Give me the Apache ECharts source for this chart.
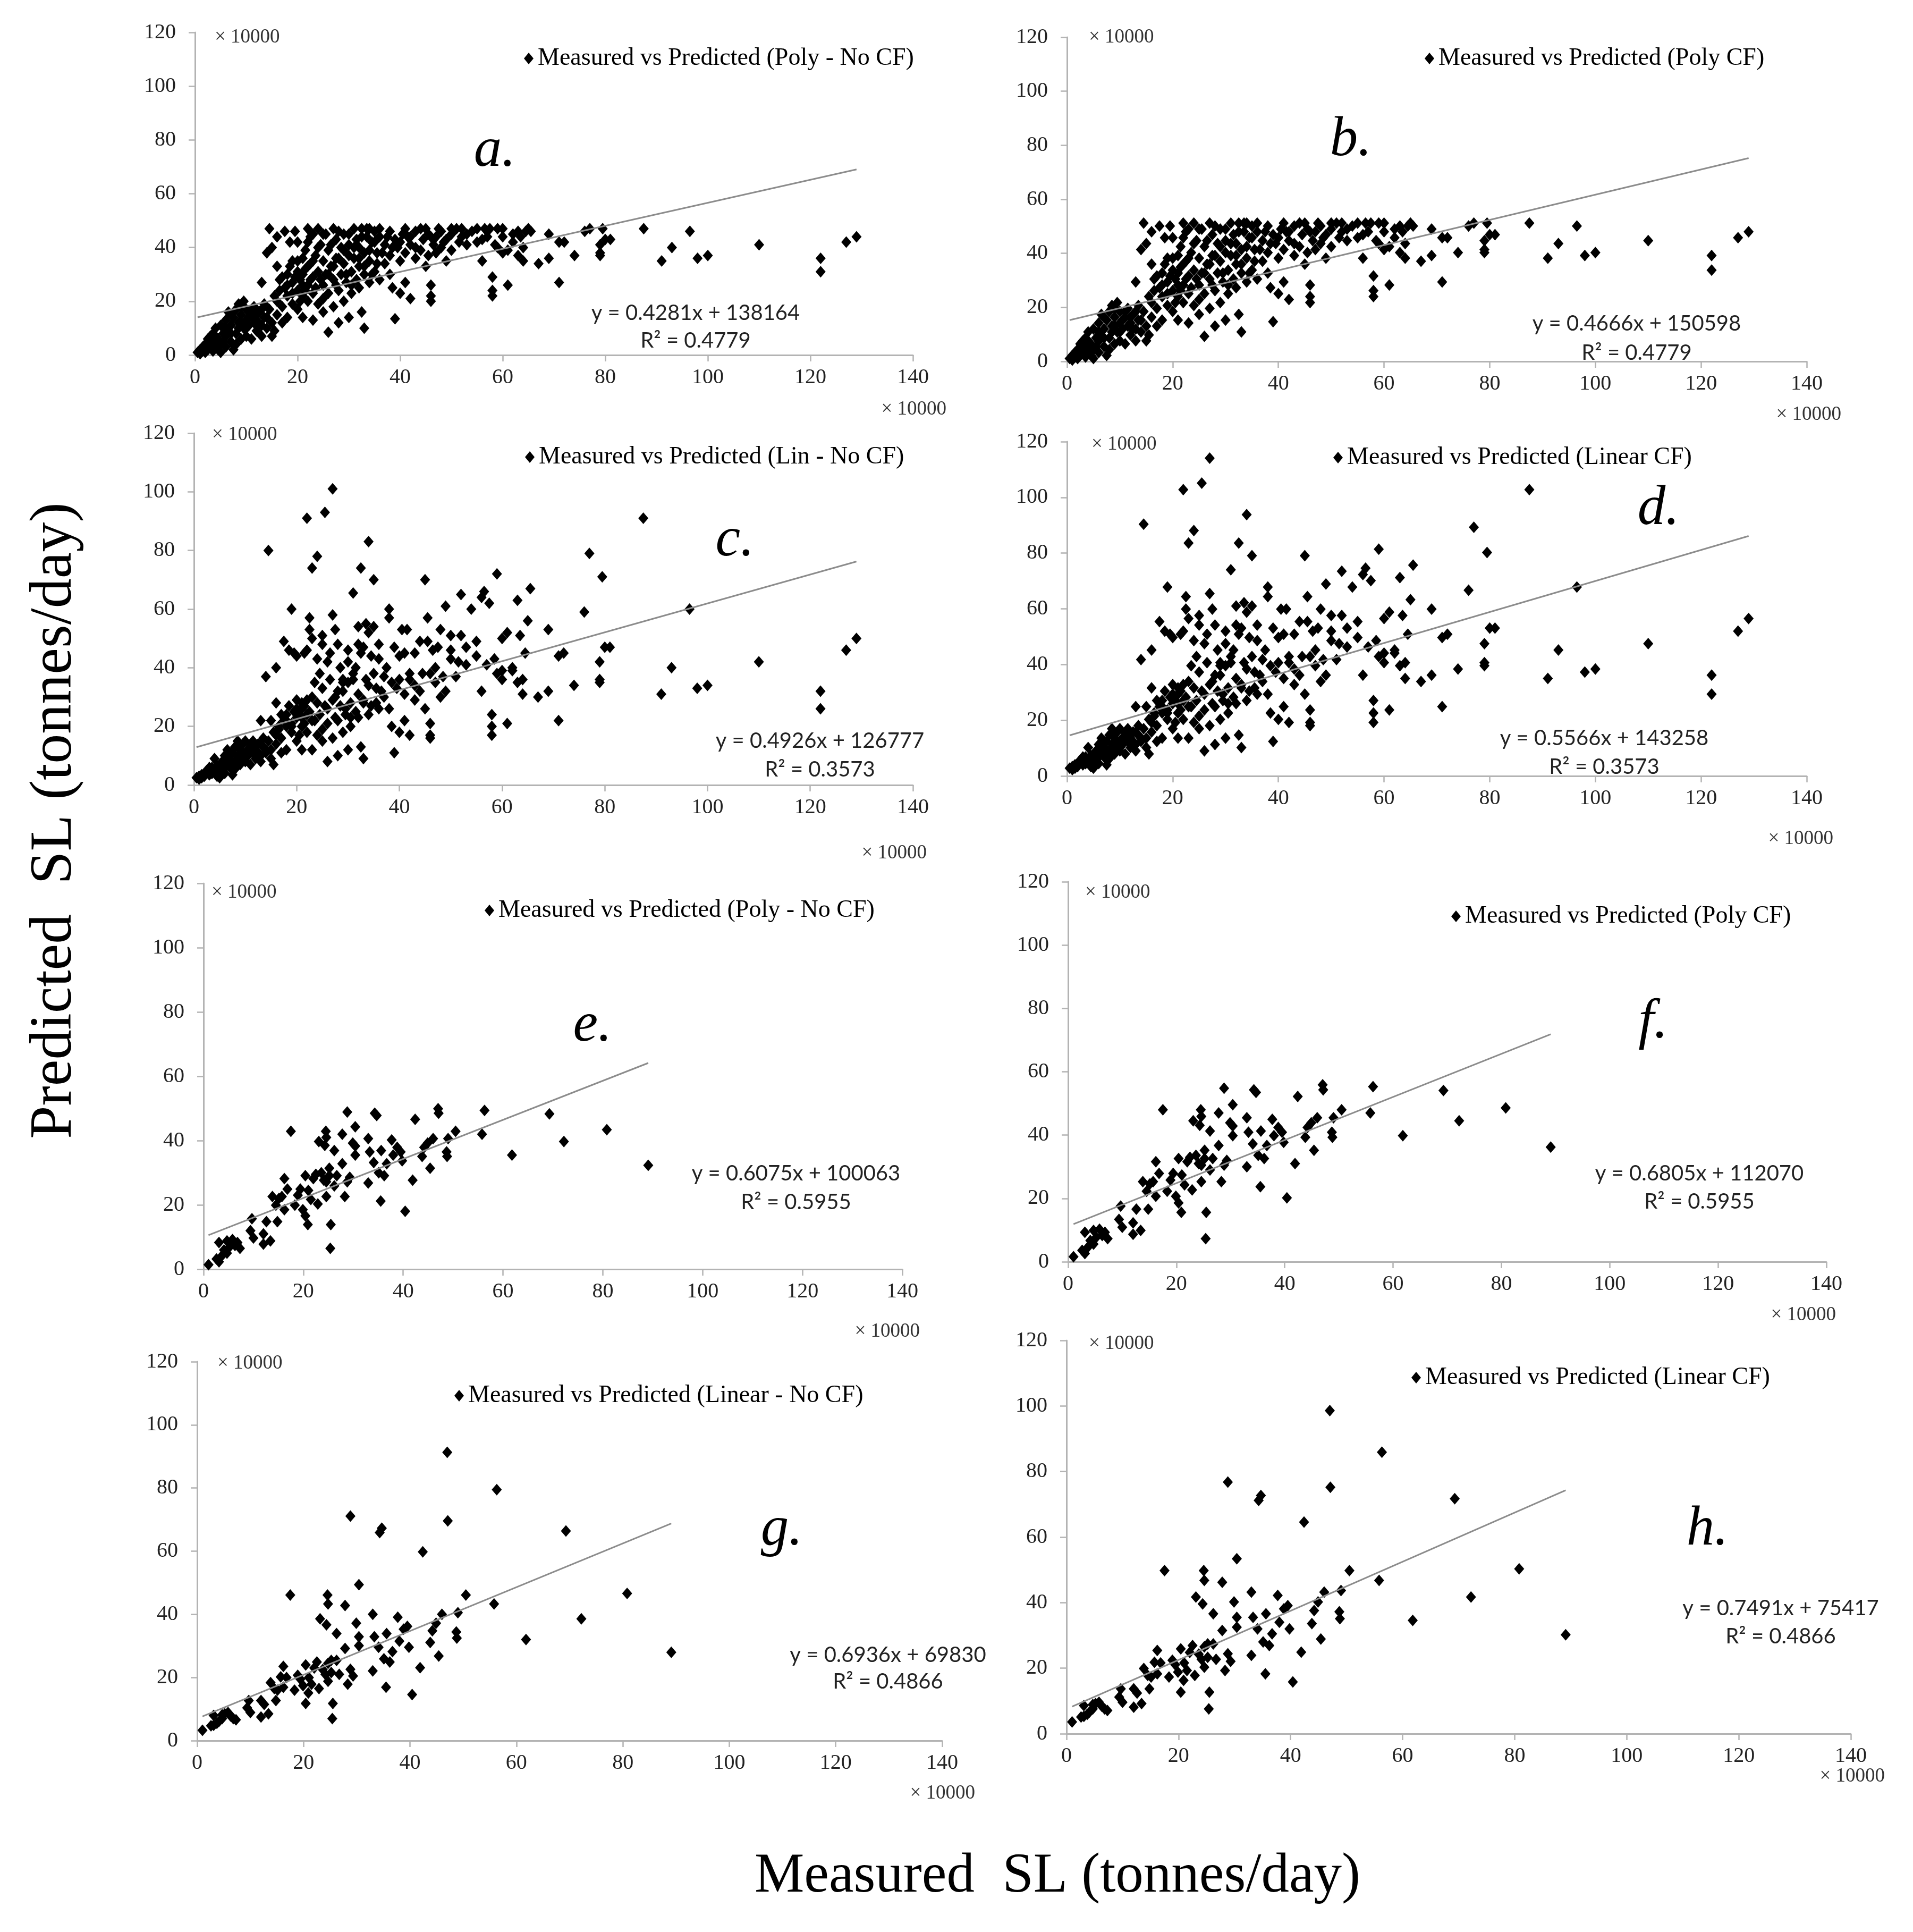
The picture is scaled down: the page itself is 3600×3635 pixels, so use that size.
<!DOCTYPE html>
<html><head><meta charset="utf-8">
<script src="https://cdn.jsdelivr.net/npm/echarts@6/dist/echarts.min.js"></script>
<style>html,body{margin:0;padding:0;background:#fff}#c{width:3600px;height:3635px}</style>
</head><body><div id="c"></div>
<script>
// ---------- DATA (values in units of 10000 tonnes/day) ----------
const panelLetters = ['a.','b.','c.','d.','e.','f.','g.','h.'];
const legendNames = [
  'Measured vs Predicted (Poly - No CF)',
  'Measured vs Predicted (Poly CF)',
  'Measured vs Predicted (Lin - No CF)',
  'Measured vs Predicted (Linear CF)',
  'Measured vs Predicted (Poly - No CF)',
  'Measured vs Predicted (Poly CF)',
  'Measured vs Predicted (Linear - No CF)',
  'Measured vs Predicted (Linear CF)'
];
const xTickValues = [0,20,40,60,80,100,120,140];
const yTickValues = [0,20,40,60,80,100,120];
const axisUnitLabel = '× 10000';

// panels a-d: measured SL
const measuredCal = [
0.5,1,1,1.5,2,2,2.5,2.5,3,3,
3.5,3.5,4,4,4.5,4.5,5,5,5,5.5,
6,6,6,6.5,6.5,7,7,7.5,7.5,8,
8,8,8.5,8.5,9,9,9.5,9.5,10,10,
10,10.5,11,11,11.5,12,12,12.5,12.5,13,
13,13.5,13.5,14,14,14.5,14.5,15,15,15,
15.5,15.5,16,16,16,16.5,17,17,17.5,17.5,
18,18,18,18.5,19,19,19,19.5,20,20,
20,20,20.5,21,21,21,21.5,21.5,22,22,
22,22.5,22.5,23,23,23,23.5,24,24,24,
24.5,25,25,25,25.5,25.5,26,26,26,26.5,
27,27,27,27.5,27.5,28,28,28.5,28.5,29,
29,29,29.5,30,30,30,30.5,30.5,31,31,
31.5,31.5,32,32,32,32.5,32.5,33,33,33,
33.5,34,34,34,34.5,35,35,35.5,36,36,
37,37,38,38,38,38.5,39,39,39.5,40,
40,40.5,41,41,41.5,42,42,43,43,44,
44.5,45,45,45.5,45.5,46,46,46,46.5,47,
47,48,48,49,49,50,50,51,52,52,
53,54,55,56,56,56.5,57,57.5,58,58,
58,58.5,59,59,60,60,61,61,62,63,
63,63.5,64,64,65,65.5,67,69,69,71,
71,72,74,76,77,79,79,79,79.5,80,
81,87.5,91,93,96.5,98,100,110,122,122,
127,129,
1.5,2,3,3.5,4,5.5,6,7,7,8.5,
9,9,10,10.5,11,11.5,12,13,13,14,
16,16.5,17,18,18.5,19,19.5,20,20.5,21,
21,21.5,22,22,22.5,23,23,23.5,24,24.5,
25,25,26,26.5,27,27.5,28,28,29,29.5,
30,30.5,31,32,32.5,33,33.5,34,34.5,35,
35.5,36,36.5,37.5,38.5,40,41,42,43,44,
46,47.5,48.5,50,51.5,53,55,60,62,64.5];
const predPolyNoCF = [
1,0.5,2,3,1,4,2,6,3,5,
1.5,8,4,10,2,6,1,11,4,8,
3,7,13,9,16,5,11,2,14,8,
17,4,12,19,6,15,10,20,13,7,
17,11,15,6,18,9,13,16,11,27,
7,14,19,10,38,47,17,7,12,40,
9,22,33,44,15,28,18,12,46,25,
22,30,14,42,27,35,19,46,24,31,
17,42,28,36,22,14,32,39,47,26,
20,34,44,29,13,23,37,47,31,19,
41,26,35,16,45,30,8.5,39,23,33,
47,28,18,43,36,24,12,40,30,45,
20,34,27,14,41,37,31,23,47,36,
28,43,33,25,40,47,16,30,38,10,
44,47,27,35,42,31,46,38,28,44,
41,34,46,37,30,25,43,13.5,40,23,
35,45,27,38,44,21,41,36,46,39,
43,47,33,37,45,26,20,22,41,44,
38,46,40,43,35,45,39,47,44,47,
41,46,47,43,35,47,44,47,29,24,
22,41,47,40,38,44,26,39,45,46,
37,44,35,40,47,46,34,45,36,27,
42,42,37,46,47,38,37,41,47,43,
43,47,35,40,46,36,37,41,36,31,
42,44,
1.5,2.5,7,4.5,7,5,10,8,15,10,
12,18,10,14,17,12,15,11,17,14,
20,24,29,26,33,23,29,35,20,26,
30,24,33,42,28,35,45,25,40,28,
45,21,30,41,33,26,46,36,39,30,
45,26,40,36,44,33,47,39,30,42,
34,47,38,44,40,42,47,44,40,47,
44,47,42,47,42,45,42,47,42,46];
const predPolyCF = [
1.1,0.5,2.2,3.3,1.1,4.4,2.2,6.5,3.3,5.5,
1.6,8.7,4.4,10.9,2.2,6.5,1.1,12,4.4,8.7,
3.3,7.6,14.2,9.8,17.4,5.5,12,2.2,15.3,8.7,
18.5,4.4,13.1,20.7,6.5,16.4,10.9,21.8,14.2,7.6,
18.5,12,16.4,6.5,19.6,9.8,14.2,17.4,12,29.4,
7.6,15.3,20.7,10.9,41.4,51.2,18.5,7.6,13.1,43.6,
9.8,24,36,48,16.4,30.5,19.6,13.1,50.1,27.3,
24,32.7,15.3,45.8,29.4,38.2,20.7,50.1,26.2,33.8,
18.5,45.8,30.5,39.2,24,15.3,34.9,42.5,51.2,28.3,
21.8,37.1,48,31.6,14.2,25.1,40.3,51.2,33.8,20.7,
44.7,28.3,38.2,17.4,49,32.7,9.3,42.5,25.1,36,
51.2,30.5,19.6,46.9,39.2,26.2,13.1,43.6,32.7,49,
21.8,37.1,29.4,15.3,44.7,40.3,33.8,25.1,51.2,39.2,
30.5,46.9,36,27.3,43.6,51.2,17.4,32.7,41.4,10.9,
48,51.2,29.4,38.2,45.8,33.8,50.1,41.4,30.5,48,
44.7,37.1,50.1,40.3,32.7,27.3,46.9,14.7,43.6,25.1,
38.2,49,29.4,41.4,48,22.9,44.7,39.2,50.1,42.5,
46.9,51.2,36,40.3,49,28.3,21.8,24,44.7,48,
41.4,50.1,43.6,46.9,38.2,49,42.5,51.2,48,51.2,
44.7,50.1,51.2,46.9,38.2,51.2,48,51.2,31.6,26.2,
24,44.7,51.2,43.6,41.4,48,28.3,42.5,49,50.1,
40.3,48,38.2,43.6,51.2,50.1,37.1,49,39.2,29.4,
45.8,45.8,40.3,50.1,51.2,41.4,40.3,44.7,51.2,46.9,
46.9,51.2,38.2,43.6,50.1,39.2,40.3,44.7,39.2,33.8,
45.8,48,
1.6,2.7,7.6,4.9,7.6,5.5,10.9,8.7,16.4,10.9,
13.1,19.6,10.9,15.3,18.5,13.1,16.4,12,18.5,15.3,
21.8,26.2,31.6,28.3,36,25.1,31.6,38.2,21.8,28.3,
32.7,26.2,36,45.8,30.5,38.2,49,27.3,43.6,30.5,
49,22.9,32.7,44.7,36,28.3,50.1,39.2,42.5,32.7,
49,28.3,43.6,39.2,48,36,51.2,42.5,32.7,45.8,
37.1,51.2,41.4,48,43.6,45.8,51.2,48,43.6,51.2,
48,51.2,45.8,51.2,45.8,49,45.8,51.2,45.8,50.1];
const predLinNoCF = [
2.5,2,3,3.5,3,4,4.5,5,3.5,5.5,
4,6,5,9,3,6.5,2.5,7,4.5,8,
4,6,10,7,12,6,9,3.5,11,8,
13,5.5,10,15,7,12,9,14,11,8,
15,10,13,7,15,9,12,14,11,22,
8,13,16,11,37,80,15,9,12,22,
7,18,28,40,14,20,16,11,49,22,
20,24,12,46,21,60,18,45,23,26,
15,44,25,28,20,12,27,45,91,24,
18,57,53,74,12,22,35,78,28,17,
38,51,33,15,93,27,8,42,21,45,
101,58,16,53,30,22,10,40,27,36,
18,32,24,12,46,35,28,20,65.5,38,
25,40,54,23,48,74,13,47,28,9,
36,83,24,52,44,70,54,33,26,43,
37,30,60,57,26,20,47,11,33,18,
44,53,22,31,53,17,36,29,45,32,
38,70,26,57,49,21,16,17,46,40,
35,53,30,61,32,51,43,37,65,51,
41,60,49,64,32,66,41,62,24,20,
17,43,72,38,36,39,21,52,39,63,
35,51,31,36,56,67,30,53,32,22,
44,45,34,59,79,36,35,42,71,47,
47,91,31,40,60,33,34,42,32,26,
46,50,
2.5,3.5,6,4,5.5,5,8,7,11,9,
10,13,9,12,14,11,13,10,14,12,
17,19,24,22,27,20,25,29,17,23,
26,21,29,46,25,30,50,22,43,24,
48,19,26,36,29,23,48,32,35,26,
42,23,36,31,45,29,55,34,27,38,
28,48,32,40,35,36,45,38,34,49,
38,47,37,46,42,47,44,50,40,45];
const predLinCF = [
2.8,2.3,3.4,4,3.4,4.5,5.1,5.7,4,6.2,
4.5,6.8,5.7,10.2,3.4,7.3,2.8,7.9,5.1,9,
4.5,6.8,11.3,7.9,13.6,6.8,10.2,4,12.4,9,
14.7,6.2,11.3,17,7.9,13.6,10.2,15.8,12.4,9,
17,11.3,14.7,7.9,17,10.2,13.6,15.8,12.4,24.9,
9,14.7,18.1,12.4,41.8,90.4,17,10.2,13.6,24.9,
7.9,20.3,31.6,45.2,15.8,22.6,18.1,12.4,55.4,24.9,
22.6,27.1,13.6,52,23.7,67.8,20.3,50.9,26,29.4,
17,49.7,28.3,31.6,22.6,13.6,30.5,50.9,102.8,27.1,
20.3,64.4,59.9,83.6,13.6,24.9,39.6,88.1,31.6,19.2,
42.9,57.6,37.3,17,105.1,30.5,9,47.5,23.7,50.9,
114.1,65.5,18.1,59.9,33.9,24.9,11.3,45.2,30.5,40.7,
20.3,36.2,27.1,13.6,52,39.6,31.6,22.6,74,42.9,
28.3,45.2,61,26,54.2,83.6,14.7,53.1,31.6,10.2,
40.7,93.8,27.1,58.8,49.7,79.1,61,37.3,29.4,48.6,
41.8,33.9,67.8,64.4,29.4,22.6,53.1,12.4,37.3,20.3,
49.7,59.9,24.9,35,59.9,19.2,40.7,32.8,50.9,36.2,
42.9,79.1,29.4,64.4,55.4,23.7,18.1,19.2,52,45.2,
39.6,59.9,33.9,68.9,36.2,57.6,48.6,41.8,73.5,57.6,
46.3,67.8,55.4,72.3,36.2,74.6,46.3,70.1,27.1,22.6,
19.2,48.6,81.4,42.9,40.7,44.1,23.7,58.8,44.1,71.2,
39.6,57.6,35,40.7,63.3,75.7,33.9,59.9,36.2,24.9,
49.7,50.9,38.4,66.7,89.3,40.7,39.6,47.5,80.2,53.1,
53.1,102.8,35,45.2,67.8,37.3,38.4,47.5,36.2,29.4,
52,56.5,
2.8,4,6.8,4.5,6.2,5.7,9,7.9,12.4,10.2,
11.3,14.7,10.2,13.6,15.8,12.4,14.7,11.3,15.8,13.6,
19.2,21.5,27.1,24.9,30.5,22.6,28.3,32.8,19.2,26,
29.4,23.7,32.8,52,28.3,33.9,56.5,24.9,48.6,27.1,
54.2,21.5,29.4,40.7,32.8,26,54.2,36.2,39.6,29.4,
47.5,26,40.7,35,50.9,32.8,62.2,38.4,30.5,42.9,
31.6,54.2,36.2,45.2,39.6,40.7,50.9,42.9,38.4,55.4,
42.9,53.1,41.8,52,47.5,53.1,49.7,56.5,45.2,50.9];

// panels e-h: measured SL
const measuredVal = [
1.0,2.6,3.1,3.1,3.7,4.1,4.7,4.7,5.2,5.8,
6.3,6.8,7.3,9.4,9.7,10.0,12.0,12.0,12.6,13.4,
13.8,14.5,14.8,15.1,15.7,16.2,16.2,16.8,17.5,18.3,
18.9,19.4,19.9,20.4,20.4,20.9,21.0,21.5,22.0,22.5,
22.9,23.1,23.6,24.1,24.3,24.5,24.6,24.6,24.6,25.2,
25.2,25.5,25.4,26.2,26.2,26.7,27.8,27.8,28.3,28.8,
28.8,29.3,29.9,30.4,30.4,30.4,33.0,33.0,33.3,34.1,
34.3,34.7,35.1,35.6,35.5,36.2,36.7,37.7,38.0,38.8,
39.5,39.8,40.4,41.9,42.4,43.8,44.2,44.9,45.4,46.0,
47.0,47.1,48.7,48.8,49.0,50.5,55.8,56.3,61.8,69.3,
72.2,80.8,89.1];
const predPolyNoCFVal = [
1.4,3.2,2.3,8.3,4.2,6.0,5.0,8.8,6.9,9.2,
7.4,8.3,6.5,12.0,15.7,9.7,11.0,7.8,14.8,8.8,
22.6,19.9,14.8,22.0,22.6,18.5,28.2,24.9,42.9,19.9,
23.0,24.9,18.5,29.1,16.6,13.9,24.5,21.7,28.2,29.5,
20.3,39.7,30.0,27.7,38.5,42.9,41.0,22.6,27.2,29.1,
31.4,13.9,6.5,36.9,25.9,29.1,42.0,32.8,22.6,27.2,
48.9,28.6,39.2,44.3,35.5,38.3,40.6,26.8,36.5,33.2,
48.5,47.8,30.0,36.9,21.2,29.1,32.8,40.2,35.5,37.9,
36.5,33.7,18.0,27.7,46.6,35.1,37.9,39.2,31.4,40.6,
49.9,48.5,36.5,35.1,40.6,42.9,42.0,49.4,35.5,48.3,
39.7,43.4,32.3];
const predPolyCFVal = [
1.6,3.6,2.6,9.3,4.7,6.7,5.6,9.9,7.7,10.3,
8.3,9.3,7.3,13.4,17.6,10.9,12.3,8.7,16.6,9.9,
25.3,22.3,16.6,24.6,25.3,20.7,31.6,27.9,48.0,22.3,
25.8,27.9,20.7,32.6,18.6,15.6,27.4,24.3,31.6,33.0,
22.7,44.5,33.6,31.0,43.1,48.0,45.9,25.3,30.5,32.6,
35.2,15.6,7.3,41.3,29.0,32.6,47.0,36.7,25.3,30.5,
54.8,32.0,43.9,49.6,39.8,42.9,45.5,30.0,40.9,37.2,
54.3,53.5,33.6,41.3,23.7,32.6,36.7,45.0,39.8,42.4,
40.9,37.7,20.2,31.0,52.2,39.3,42.4,43.9,35.2,45.5,
55.9,54.3,40.9,39.3,45.5,48.0,47.0,55.3,39.8,54.1,
44.5,48.6,36.2];
const predLinNoCFVal = [
3.3,4.7,4.9,8.0,5.5,6.1,7.0,8.2,8.5,8.9,
7.8,7.0,6.6,10.4,12.7,8.9,12.7,7.5,11.5,8.5,
18.4,16.5,12.7,16.0,20.2,16.9,23.5,20.0,46.1,16.0,
20.7,19.5,17.4,24.0,11.8,15.1,20.0,17.9,23.0,24.9,
16.5,38.6,22.5,21.0,36.7,46.1,43.3,18.8,24.5,21.6,
25.4,11.8,7.0,33.9,25.4,21.0,42.8,29.2,17.9,22.6,
71.1,20.5,37.2,49.4,30.1,32.9,40.0,22.1,32.9,29.6,
65.9,67.3,25.9,33.9,16.9,24.9,28.2,39.1,31.5,35.3,
36.2,29.6,14.6,23.1,59.8,31.1,34.8,37.2,26.8,40.0,
91.3,69.6,34.4,32.5,40.5,46.1,43.3,79.5,32.0,66.4,
38.6,46.6,28.0];
const predLinCFVal = [
3.6,5.1,5.3,8.6,5.9,6.6,7.6,8.9,9.2,9.6,
8.4,7.6,7.1,11.2,13.7,9.6,13.7,8.1,12.4,9.2,
19.9,17.8,13.7,17.3,21.8,18.3,25.4,21.6,49.8,17.3,
22.4,21.1,18.8,25.9,12.7,16.3,21.6,19.3,24.8,26.9,
17.8,41.7,24.3,22.7,39.6,49.8,46.8,20.3,26.5,23.3,
27.4,12.7,7.6,36.6,27.4,22.7,46.2,31.5,19.3,24.4,
76.8,22.1,40.2,53.4,32.5,35.5,43.2,23.9,35.5,32.0,
71.2,72.7,28.0,36.6,18.3,26.9,30.5,42.2,34.0,38.1,
39.1,32.0,15.8,24.9,64.6,33.6,37.6,40.2,28.9,43.2,
98.6,75.2,37.2,35.1,43.7,49.8,46.8,85.9,34.6,71.7,
41.7,50.3,30.2];

// Excel linear trendlines shown in each panel
const trendSlopes = [0.4281,0.4666,0.4926,0.5566,0.6075,0.6805,0.6936,0.7491];
const trendIntercepts = [138164,150598,126777,143258,100063,112070,69830,75417];
const r2Values = ['0.4779','0.4779','0.3573','0.3573','0.5955','0.5955','0.4866','0.4866'];
const trendXStart = [0.5,0.5,0.5,0.5,1,1,1,1];
const trendXEnd = [129,129,129,129,89.1,89.1,89.1,89.1];
const unitScale = 10000;

const xSeries = [measuredCal,measuredCal,measuredCal,measuredCal,measuredVal,measuredVal,measuredVal,measuredVal];
const ySeries = [predPolyNoCF,predPolyCF,predLinNoCF,predLinCF,predPolyNoCFVal,predPolyCFVal,predLinNoCFVal,predLinCFVal];

// ---------- LAYOUT (pixels) ----------
const layout = [
 {L:367,T:61,R:1718,B:668, leg:[995,110], ylab:[404,70], xlab:[1781,770], eq:[1309,589], r2:[1309,641], let:[931,284]},
 {L:2008,T:70,R:3400,B:680, leg:[2690,110], ylab:[2049,70], xlab:[3465,780], eq:[3080,609], r2:[3080,664], let:[2542,264]},
 {L:365,T:815,R:1718,B:1477, leg:[997,860], ylab:[399,818], xlab:[1744,1605], eq:[1543,1394], r2:[1543,1448], let:[1383,1017]},
 {L:2008,T:831,R:3400,B:1460, leg:[2518,861], ylab:[2054,836], xlab:[3450,1578], eq:[3019,1389], r2:[3019,1443], let:[3121,958]},
 {L:383,T:1662,R:1698,B:2388, leg:[921,1713], ylab:[398,1679], xlab:[1731,2505], eq:[1498,2208], r2:[1498,2262], let:[1115,1930]},
 {L:2010,T:1659,R:3437,B:2374, leg:[2740,1724], ylab:[2042,1679], xlab:[3455,2474], eq:[3198,2208], r2:[3198,2261], let:[3111,1924]},
 {L:371,T:2562,R:1773,B:3275, leg:[864,2626], ylab:[409,2565], xlab:[1835,3374], eq:[1671,3114], r2:[1671,3164], let:[1471,2878]},
 {L:2007,T:2522,R:3483,B:3262, leg:[2665,2592], ylab:[2049,2528], xlab:[3547,3342], eq:[3351,3026], r2:[3351,3079], let:[3213,2878]}
];

const SERIF_NAME = 'Liberation Serif';
const SERIF = '"Liberation Serif", serif';
const SANS = 'Lato, "Liberation Sans", sans-serif';
const AXIS_COLOR = '#b3b3b3';

const grids = [], xAxes = [], yAxes = [], series = [], legends = [], graphics = [];
layout.forEach((p, i) => {
  grids.push({left:p.L, top:p.T, width:p.R - p.L, height:p.B - p.T, containLabel:false, outerBoundsMode:'none'});
  xAxes.push({
    gridIndex:i, type:'value', min:xTickValues[0], max:xTickValues[xTickValues.length-1], interval:xTickValues[1]-xTickValues[0],
    axisLine:{show:true, onZero:false, lineStyle:{color:AXIS_COLOR, width:3}},
    axisTick:{show:true, length:12, lineStyle:{color:AXIS_COLOR, width:2.5}},
    axisLabel:{fontFamily:SERIF_NAME, fontSize:40, color:'#222', margin:22},
    splitLine:{show:false}
  });
  yAxes.push({
    gridIndex:i, type:'value', min:yTickValues[0], max:yTickValues[yTickValues.length-1], interval:yTickValues[1]-yTickValues[0],
    axisLine:{show:true, onZero:false, lineStyle:{color:AXIS_COLOR, width:3}},
    axisTick:{show:true, length:12, lineStyle:{color:AXIS_COLOR, width:2.5}},
    axisLabel:{fontFamily:SERIF_NAME, fontSize:40, color:'#222', margin:36},
    splitLine:{show:false}
  });
  const xs = xSeries[i], ys = ySeries[i];
  series.push({
    name:legendNames[i], type:'scatter', xAxisIndex:i, yAxisIndex:i,
    data: xs.map((x, k) => [x, ys[k]]),
    symbol:'diamond', symbolSize:[19,22], itemStyle:{color:'#000', opacity:1}, z:2
  });
  const s = trendSlopes[i], b = trendIntercepts[i] / unitScale;
  series.push({
    name:'trend ' + panelLetters[i], type:'line', xAxisIndex:i, yAxisIndex:i,
    data:[[trendXStart[i], s*trendXStart[i] + b], [trendXEnd[i], s*trendXEnd[i] + b]],
    showSymbol:false, symbol:'none', silent:true,
    lineStyle:{color:'#8c8c8c', width:3}, z:3
  });
  legends.push({
    data:[{name:legendNames[i], icon:'diamond'}], left:p.leg[0] - 9, top:p.leg[1] - 25,
    padding:0, itemWidth:18, itemHeight:22, selectedMode:false,
    textStyle:{fontFamily:SERIF_NAME, fontSize:46, color:'#000', lineHeight:50, padding:[0,0,0,3]}
  });
  graphics.push({type:'text', x:p.ylab[0], y:p.ylab[1], silent:true,
    style:{text:axisUnitLabel, font:'37px ' + SERIF, fill:'#333', textAlign:'left', textVerticalAlign:'middle'}});
  graphics.push({type:'text', x:p.xlab[0], y:p.xlab[1], silent:true,
    style:{text:axisUnitLabel, font:'37px ' + SERIF, fill:'#333', textAlign:'right', textVerticalAlign:'middle'}});
  graphics.push({type:'text', x:p.eq[0], y:p.eq[1], silent:true,
    style:{text:'y = ' + trendSlopes[i] + 'x + ' + trendIntercepts[i], font:'40px ' + SANS, fill:'#222', textAlign:'center', textVerticalAlign:'middle'}});
  graphics.push({type:'text', x:p.r2[0], y:p.r2[1], silent:true,
    style:{text:'R² = ' + r2Values[i], font:'40px ' + SANS, fill:'#222', textAlign:'center', textVerticalAlign:'middle'}});
  graphics.push({type:'text', x:p.let[0], y:p.let[1], silent:true,
    style:{text:panelLetters[i], font:'italic 105px ' + SERIF, fill:'#000', textAlign:'center', textVerticalAlign:'middle'}});
});
graphics.push({type:'text', x:104, y:1544, rotation:Math.PI/2, silent:true,
  style:{text:'Predicted  SL (tonnes/day)', font:'112px ' + SERIF, fill:'#000', textAlign:'center', textVerticalAlign:'middle'}});
graphics.push({type:'text', x:1990, y:3531, silent:true,
  style:{text:'Measured  SL (tonnes/day)', font:'105px ' + SERIF, fill:'#000', textAlign:'center', textVerticalAlign:'middle'}});

const chart = echarts.init(document.getElementById('c'), null, {renderer:'canvas'});
chart.setOption({
  animation:false,
  backgroundColor:'#fff',
  textStyle:{fontFamily:SERIF_NAME},
  grid:grids, xAxis:xAxes, yAxis:yAxes, series:series, legend:legends, graphic:graphics
});
</script></body></html>
